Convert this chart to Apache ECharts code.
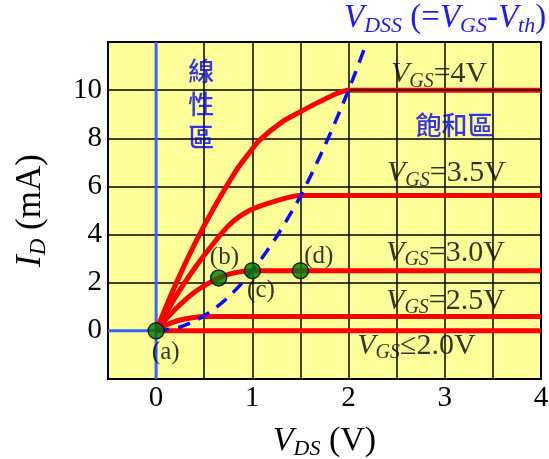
<!DOCTYPE html>
<html>
<head>
<meta charset="utf-8">
<script src="https://cdn.jsdelivr.net/npm/echarts@6/dist/echarts.min.js"></script>
<style>
  html, body { margin: 0; padding: 0; background: #ffffff; }
  #chart { width: 549px; height: 459px; }
</style>
</head>
<body>
<div id="chart"></div>
<script>
// Drain current I_D (mA) against V_DS (V) for each gate voltage
const curveVgs40 = [[0,0],[0.2,1.9],[0.4,3.6],[0.6,5.1],[0.83,6.65],[0.97,7.4],[1.07,7.9],[1.31,8.68],[1.5,9.1],[1.73,9.58],[2,10],[4,10]];
const curveVgs35 = [[0,0],[0.2,1.4],[0.4,2.6],[0.55,3.4],[0.76,4.4],[0.97,5.0],[1.24,5.39],[1.5,5.62],[4,5.62]];
const curveVgs30 = [[0,0],[0.15,0.7],[0.3,1.28],[0.45,1.75],[0.65,2.2],[0.8,2.4],[1.0,2.5],[4,2.5]];
const curveVgs25 = [[0,0],[0.1,0.23],[0.25,0.45],[0.5,0.6],[4,0.6]];
const curveVgs20 = [[0,0],[4,0]];

// Boundary between the linear and saturation regions
const vdssCurve = [[0,0],[0.25,0.16],[0.5,0.63],[0.75,1.4],[1,2.5],[1.25,3.9],[1.5,5.6],[1.75,7.66],[2,10],[2.19,12]];

// Operating points (a)-(d)
const opPoints = [[0,0],[0.65,2.2],[1.0,2.5],[1.5,2.5]];

// Text placed in data space: [x, y, text]
const curveLabels = [
  [2.44, 10.65, '{v|V}{s|GS}{n|=4V}'],
  [2.40, 6.54, '{v|V}{s|GS}{n|=3.5V}'],
  [2.39, 3.25, '{v|V}{s|GS}{n|=3.0V}'],
  [2.39, 1.25, '{v|V}{s|GS}{n|=2.5V}'],
  [2.09, -0.62, '{v|V}{s|GS}{n|≤2.0V}']
];
const pointLabels = [
  [0.10, -0.88, '(a)'],
  [0.71, 3.04, '(b)'],
  [1.09, 1.67, '(c)'],
  [1.69, 3.10, '(d)']
];
const regionLabels = [
  [0.47, 9.4, '線\n性\n區'],
  [3.10, 8.54, '飽和區']
];

const xTicks = [0, 1, 2, 3, 4];
const yTicks = [0, 2, 4, 6, 8, 10];

const SERIF = '"Liberation Serif", "Times New Roman", serif';
const CJK = '"Noto Sans CJK TC", "Noto Sans CJK SC", sans-serif';
const RED = '#ff0000';

const labelRich = {
  v: { fontFamily: SERIF, fontStyle: 'italic', fontSize: 30, color: '#000' },
  s: { fontFamily: SERIF, fontStyle: 'italic', fontSize: 20, color: '#000', padding: [14, 0, 0, 0] },
  n: { fontFamily: SERIF, fontSize: 30, color: '#000' }
};

function redCurve(name, data) {
  return {
    name, type: 'line', data, showSymbol: false, symbol: 'none',
    smooth: 0.3,
    lineStyle: { color: RED, width: 5 }, z: 3, silent: true
  };
}

const chart = echarts.init(document.getElementById('chart'), null, { renderer: 'canvas' });

const s40 = redCurve('VGS=4V', curveVgs40);
s40.markLine = {
  silent: true, symbol: 'none', label: { show: false },
  lineStyle: { color: '#000', width: 1.5, type: 'solid' },
  data: [[{ coord: [2, 10] }, { coord: [4, 10] }]]
};

chart.setOption({
  animation: false,
  backgroundColor: '#ffffff',
  grid: {
    show: true, left: 108, top: 42, right: 8, bottom: 80,
    containLabel: false, outerBoundsMode: 'none',
    backgroundColor: '#ffff99', borderColor: '#000', borderWidth: 2
  },
  xAxis: {
    type: 'value', min: -0.5, max: 4, interval: 0.5,
    axisLine: { show: false }, axisTick: { show: false },
    splitLine: { show: true, lineStyle: { color: '#000', width: 1.5 } },
    axisLabel: {
      margin: 5, fontFamily: SERIF, fontSize: 29, color: '#000',
      formatter: v => xTicks.includes(v) ? String(v) : ''
    },
    name: '{v|V}{s|DS}{n| (V)}',
    nameLocation: 'middle', nameGap: 43,
    nameTextStyle: {
      rich: {
        v: { fontFamily: SERIF, fontStyle: 'italic', fontSize: 34, color: '#000' },
        s: { fontFamily: SERIF, fontStyle: 'italic', fontSize: 22, color: '#000', padding: [16, 0, 0, 0] },
        n: { fontFamily: SERIF, fontSize: 34, color: '#000' }
      }
    }
  },
  yAxis: {
    type: 'value', min: -2, max: 12, interval: 2,
    axisLine: { show: false }, axisTick: { show: false },
    splitLine: { show: true, lineStyle: { color: '#000', width: 1.5 } },
    axisLabel: {
      margin: 6, fontFamily: SERIF, fontSize: 29, color: '#000',
      formatter: v => yTicks.includes(v) ? String(v) : ''
    },
    name: '{v|I}{s|D}{n| (mA)}',
    nameLocation: 'middle', nameGap: 58, nameRotate: 90,
    nameTextStyle: {
      rich: {
        v: { fontFamily: SERIF, fontStyle: 'italic', fontSize: 35, color: '#000' },
        s: { fontFamily: SERIF, fontStyle: 'italic', fontSize: 23, color: '#000', padding: [16, 0, 0, 0] },
        n: { fontFamily: SERIF, fontSize: 35, color: '#000' }
      }
    }
  },
  graphic: [{
    type: 'text', left: 344, top: 2, z: 10,
    style: {
      text: '{v|V}{s|DSS}{n| (=}{v|V}{s|GS}{n|-}{v|V}{s|th}{n|)}',
      rich: {
        v: { fontFamily: SERIF, fontStyle: 'italic', fontSize: 33, fill: '#1a1aff' },
        s: { fontFamily: SERIF, fontStyle: 'italic', fontSize: 22, fill: '#1a1aff', padding: [16, 0, 0, 0] },
        n: { fontFamily: SERIF, fontSize: 33, fill: '#1a1aff' }
      }
    }
  }],
  series: [
    {
      name: 'axisV', type: 'line', data: [[0, -2], [0, 12]], symbol: 'none',
      lineStyle: { color: '#3366ff', width: 3 }, z: 2, silent: true
    },
    {
      name: 'axisH', type: 'line', data: [[-0.5, 0], [0, 0]], symbol: 'none',
      lineStyle: { color: '#3366ff', width: 3 }, z: 2, silent: true
    },
    redCurve('VGS<=2.0V', curveVgs20),
    redCurve('VGS=2.5V', curveVgs25),
    redCurve('VGS=3.0V', curveVgs30),
    redCurve('VGS=3.5V', curveVgs35),
    s40,
    {
      name: 'VDSS', type: 'line', data: vdssCurve, symbol: 'none',
      smooth: 0.3,
      lineStyle: { color: '#0a0aff', width: 3.5, type: [13, 9] }, z: 5, silent: true
    },
    {
      name: 'points', type: 'scatter', data: opPoints, symbol: 'circle', symbolSize: 16,
      itemStyle: { color: '#007a00', borderColor: '#000', borderWidth: 1.5 }, z: 6, silent: true
    },
    {
      name: 'curveLabels', type: 'scatter', symbolSize: 0, clip: false, z: 7, silent: true,
      data: curveLabels.map(d => ({ value: [d[0], d[1]], text: d[2] })),
      label: {
        show: true, position: 'right', distance: 0,
        formatter: p => p.data.text, rich: labelRich
      }
    },
    {
      name: 'pointLabels', type: 'scatter', symbolSize: 0, clip: false, z: 7, silent: true,
      data: pointLabels.map(d => ({ value: [d[0], d[1]], text: d[2] })),
      label: {
        show: true, position: 'inside',
        formatter: p => p.data.text,
        fontFamily: SERIF, fontSize: 25, color: '#000'
      }
    },
    {
      name: 'regionLabels', type: 'scatter', symbolSize: 0, clip: false, z: 7, silent: true,
      data: regionLabels.map(d => ({ value: [d[0], d[1]], text: d[2] })),
      label: {
        show: true, position: 'inside',
        formatter: p => p.data.text,
        fontFamily: CJK, fontSize: 26, fontWeight: 500, lineHeight: 33, color: '#0000ff', align: 'center'
      }
    }
  ]
});
</script>
</body>
</html>
